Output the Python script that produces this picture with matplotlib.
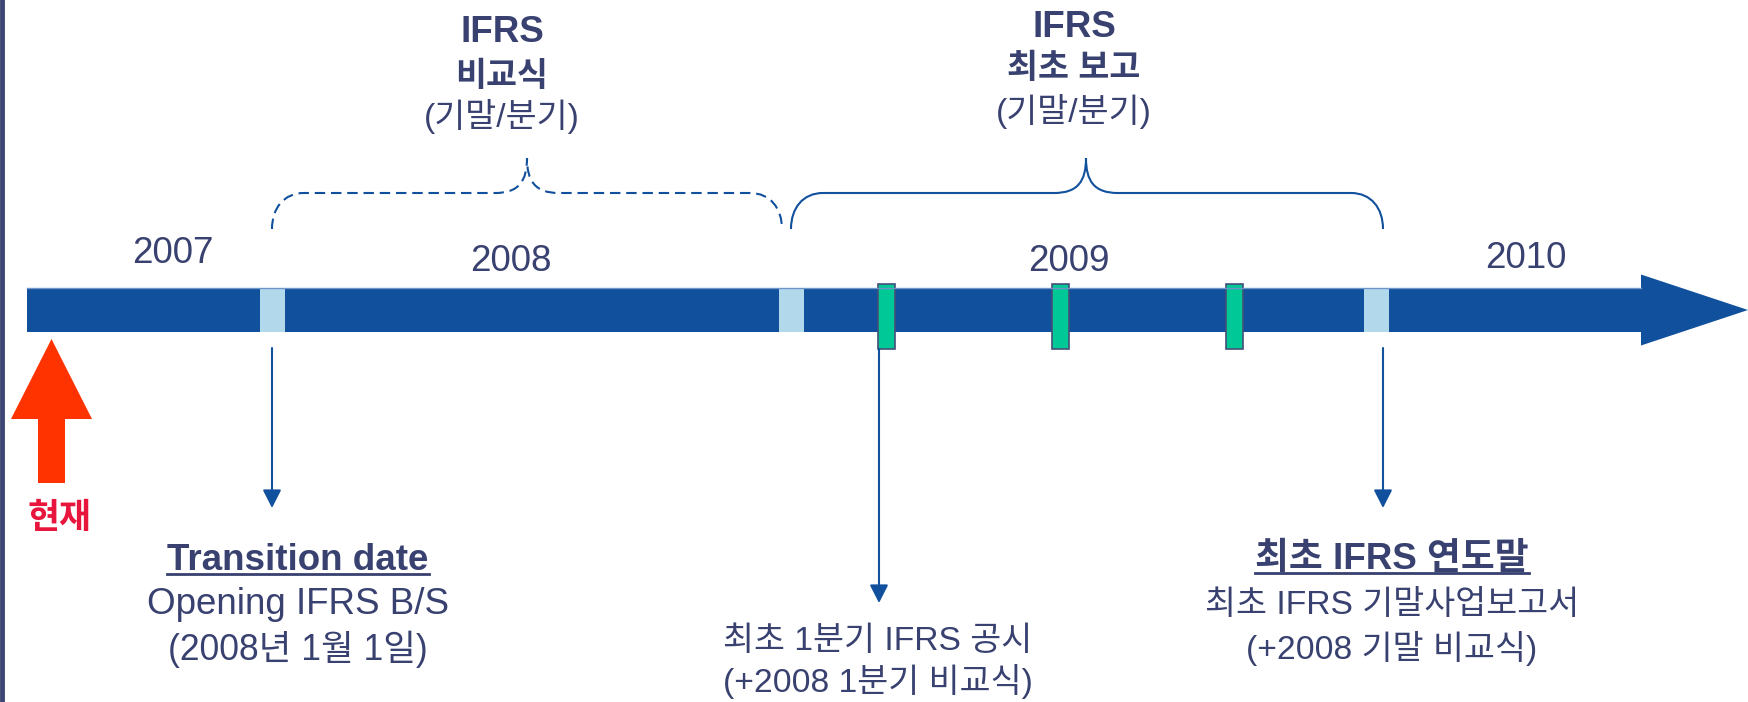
import matplotlib
matplotlib.use('Agg')
import matplotlib.pyplot as plt
from matplotlib.patches import FancyArrow, Rectangle, PathPatch
from matplotlib.path import Path

plt.rcParams['font.family'] = ['Liberation Sans', 'Noto Sans CJK KR', 'DejaVu Sans']

# timeline geometry (pixel units of the 1749x702 canvas)
bar_start = 27
bar_tip = 1748
bar_y = 310
year_labels = ['2007', '2008', '2009', '2010']
year_x = [173, 511, 1069, 1526]
year_base = [263, 271, 271, 268]
period_marks = [272, 791, 1376]        # light blue: transition / start / year-end
quarter_marks = [887, 1061, 1235]      # green: quarterly reports

# braces: (left, tip, right, dashed)
braces = [(272, 527, 782, True), (791, 1086, 1383, False)]
brace_titles = [['IFRS', '비교식', '(기말/분기)'], ['IFRS', '최초 보고', '(기말/분기)']]
brace_title_base = [[42, 86, 127], [37, 78, 122]]
brace_title_bold = [True, True, False]

# down arrows to notes
note_x = [272, 879, 1383]
note_from = [348, 349, 348]
note_to = [508, 603, 508]
note_lines = [['Transition date', 'Opening IFRS B/S', '(2008년 1월 1일)'],
              ['최초 1분기 IFRS 공시', '(+2008 1분기 비교식)'],
              ['최초 IFRS 연도말', '최초 IFRS 기말사업보고서', '(+2008 기말 비교식)']]
note_cx = [298, 878, 1392]
note_base = [[570, 614, 660], [650, 692], [569, 614, 659]]
note_head = [True, False, True]

navy = '#11509c'
text_c = '#38416f'
fs = 26.5


def size_for(s, bold=False):
    # hangul glyphs in the original are narrower than Noto's
    n_kr = sum(1 for ch in s if '\uac00' <= ch <= '\ud7a3')
    if n_kr == 0 or bold:
        return fs
    return fs * (0.965 if n_kr <= 3 and len(s) > 8 else 0.915)


fig = plt.figure(figsize=(17.49, 7.02), dpi=100)
ax = fig.add_axes([0, 0, 1, 1])
ax.set_xlim(0, 1749)
ax.set_ylim(702, 0)
ax.axis('off')

# left border
ax.axvline(2, color='#3c4775', lw=3.5)

# main timeline arrow
ax.add_patch(FancyArrow(bar_start, bar_y, bar_tip - bar_start, 0, width=44,
                        head_width=71, head_length=107, length_includes_head=True,
                        color=navy, lw=0))
ax.plot([bar_start, 1641], [bar_y - 22, bar_y - 22], color='#6f95c8', lw=1)

for x in period_marks:
    ax.add_patch(Rectangle((x - 12, bar_y - 22), 25, 44, color='#b1d9eb', lw=0))
for x in quarter_marks:
    ax.add_patch(Rectangle((x - 8.5, 284), 17, 65, facecolor='#00c896',
                           edgecolor='#454e78', lw=1.2))

for lab, x, b in zip(year_labels, year_x, year_base):
    ax.text(x, b, lab, ha='center', va='baseline', fontsize=fs, color=text_c)


def brace_path(x0, xt, x1, y_end=229, y_mid=193, y_tip=158):
    r = 32
    verts = [(x0, y_end), (x0, y_mid + 15), (x0 + 12, y_mid), (x0 + r, y_mid),
             (xt - r, y_mid), (xt - 8, y_mid), (xt, y_mid - 12), (xt, y_tip),
             (xt, y_mid - 12), (xt + 8, y_mid), (xt + r, y_mid),
             (x1 - r, y_mid), (x1 - 12, y_mid), (x1, y_mid + 15), (x1, y_end)]
    codes = [Path.MOVETO, Path.CURVE4, Path.CURVE4, Path.CURVE4,
             Path.LINETO, Path.CURVE4, Path.CURVE4, Path.CURVE4,
             Path.CURVE4, Path.CURVE4, Path.CURVE4,
             Path.LINETO, Path.CURVE4, Path.CURVE4, Path.CURVE4]
    return Path(verts, codes)


for (x0, xt, x1, dashed), lines, bases in zip(braces, brace_titles, brace_title_base):
    ls = (0, (5, 2.8)) if dashed else '-'
    ax.add_patch(PathPatch(brace_path(x0, xt, x1), facecolor='none',
                           edgecolor=navy, lw=1.5, linestyle=ls))
    for ln, b, bold in zip(lines, bases, brace_title_bold):
        ax.text(xt - 25 if dashed else xt - 12, b, ln, ha='center', va='baseline',
                fontsize=size_for(ln), color=text_c,
                fontweight='bold' if bold else 'normal')

# present marker
ax.add_patch(FancyArrow(51.5, 483, 0, -144, width=27, head_width=81, head_length=80,
                        length_includes_head=True, color='#ff3300', lw=0))
ax.text(60, 528, '현재', ha='center', va='baseline', fontsize=25, fontweight='bold',
        color='#e8163c', family=['Noto Sans CJK KR'])

fig.canvas.draw()
for x, y0, y1, lines, cx, bases, head in zip(note_x, note_from, note_to, note_lines,
                                             note_cx, note_base, note_head):
    ax.annotate('', xy=(x, y1), xytext=(x, y0),
                arrowprops=dict(arrowstyle='-|>,head_length=0.55,head_width=0.28',
                                color=navy, lw=1.5, shrinkA=0, shrinkB=0,
                                mutation_scale=20))
    for i, (ln, b) in enumerate(zip(lines, bases)):
        bold = head and i == 0
        t = ax.text(cx, b, ln, ha='center', va='baseline', fontsize=size_for(ln, bold),
                    color=text_c, fontweight='bold' if bold else 'normal')
        if bold:
            bb = t.get_window_extent(renderer=fig.canvas.get_renderer())
            inv = ax.transData.inverted()
            (xa, _), (xb, _) = inv.transform([(bb.x0, bb.y0), (bb.x1, bb.y0)])
            ax.plot([xa, xb], [b + 3.5, b + 3.5], color=text_c, lw=2)

fig.savefig('out.png', dpi=100)
